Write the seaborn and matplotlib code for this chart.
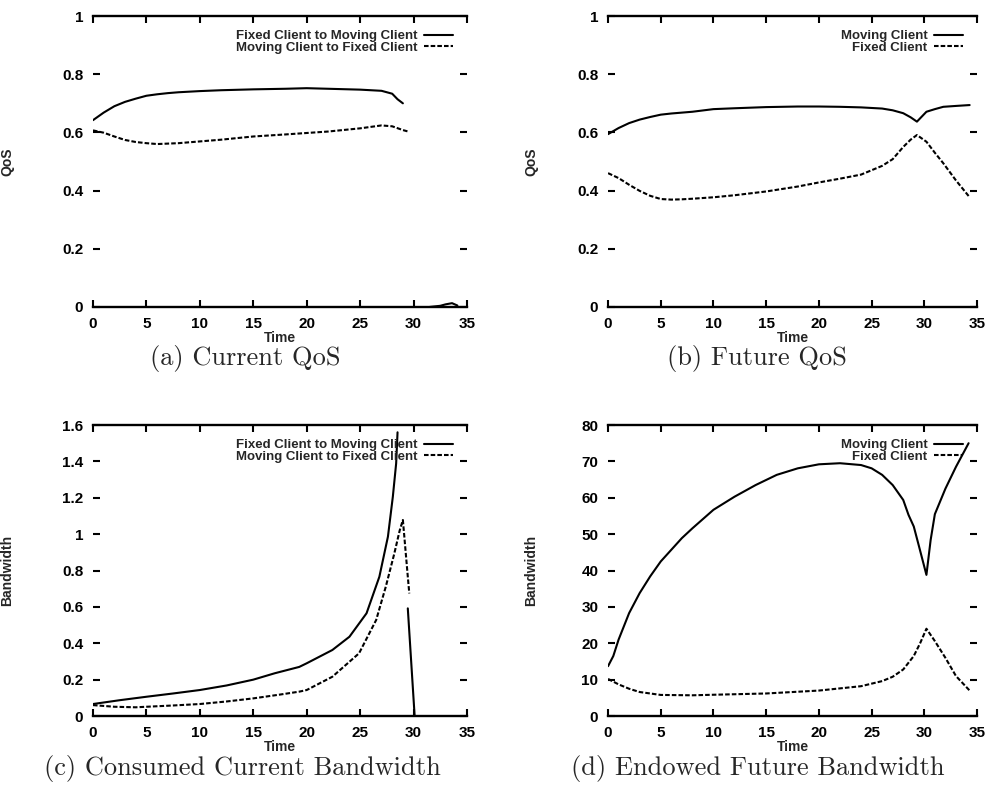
import numpy as np
import pandas as pd
import seaborn as sns
import matplotlib.pyplot as plt

# (a) Current QoS
a_time_fm = [0, 1, 2, 3, 4, 5, 6, 7, 8, 10, 12, 15, 18, 20, 22, 25, 27, 28, 28.5, 29]
a_fixed_to_moving = [0.642, 0.668, 0.69, 0.705, 0.716, 0.726, 0.731, 0.735, 0.738, 0.742,
                     0.745, 0.748, 0.75, 0.752, 0.75, 0.747, 0.743, 0.733, 0.714, 0.70]
a_time_mf = [0, 1, 2, 3, 4, 5, 6, 8, 10, 12, 15, 18, 20, 22, 25, 27, 28, 29, 29.5]
a_moving_to_fixed = [0.607, 0.599, 0.586, 0.574, 0.567, 0.563, 0.560, 0.563, 0.569, 0.575,
                     0.586, 0.593, 0.598, 0.603, 0.614, 0.624, 0.621, 0.608, 0.603]
a_tail_time = [31.5, 32.5, 33.0, 33.6, 34.1]
a_tail = [0.0, 0.004, 0.009, 0.013, 0.005]

# (b) Future QoS
b_time = [0, 1, 2, 3, 4, 5, 6, 7, 8, 10, 12, 15, 18, 20, 22, 24, 26, 27, 28, 28.7,
          29.3, 30.2, 31, 31.8, 33, 34.3]
b_moving = [0.594, 0.615, 0.632, 0.644, 0.653, 0.661, 0.665, 0.668, 0.671, 0.68, 0.683,
            0.687, 0.689, 0.689, 0.688, 0.686, 0.682, 0.676, 0.666, 0.652, 0.637, 0.671,
            0.680, 0.688, 0.691, 0.694]
b_fixed = [0.460, 0.443, 0.420, 0.399, 0.382, 0.371, 0.369, 0.370, 0.372, 0.377, 0.384,
           0.397, 0.414, 0.428, 0.441, 0.455, 0.485, 0.508, 0.55, 0.575, 0.591, 0.568,
           0.53, 0.494, 0.435, 0.377]

# (c) Consumed Current Bandwidth
c_time_fm = [0, 2.5, 5, 7.5, 10, 12.5, 15, 17, 19.3, 20, 22.4, 24, 25.6, 26.8, 27.6,
             28.06, 28.37, 28.5]
c_fixed_to_moving = [0.066, 0.087, 0.106, 0.124, 0.143, 0.168, 0.20, 0.235, 0.27, 0.29,
                     0.363, 0.436, 0.565, 0.766, 0.986, 1.206, 1.389, 1.56]
c_drop_time = [29.46, 30.1]
c_drop = [0.592, 0.0]
c_time_mf = [0, 2, 4, 5, 7.5, 10, 12.5, 15, 17.5, 19.3, 20, 22.4, 24.9, 26.5, 27.4, 28.2,
             28.7, 29.0, 29.46, 29.6]
c_moving_to_fixed = [0.06, 0.051, 0.048, 0.051, 0.058, 0.066, 0.08, 0.097, 0.118, 0.134,
                     0.143, 0.216, 0.345, 0.528, 0.711, 0.894, 1.02, 1.078, 0.766, 0.674]

# (d) Endowed Future Bandwidth
d_time_m = [0, 0.5, 1, 2, 3, 4, 5, 6, 7, 8, 10, 12, 14, 16, 18, 20, 22, 24, 25, 26, 27,
            28, 28.5, 29, 29.5, 30.2, 30.6, 31, 32, 33, 34.2]
d_moving = [13.7, 16.5, 21, 28.3, 33.8, 38.4, 42.5, 45.7, 48.9, 51.6, 56.7, 60.3, 63.5,
            66.3, 68.1, 69.2, 69.5, 69.0, 68.1, 66.3, 63.5, 59.4, 55.3, 52.1, 46.6, 38.8,
            48.4, 55.5, 62.5, 68.5, 75]
d_time_f = [0, 1, 2, 3, 5, 8, 10, 15, 20, 24, 26, 27, 28, 29, 29.6, 30.2, 31, 32, 33, 34.3]
d_fixed = [10.2, 8.7, 7.5, 6.6, 5.8, 5.7, 5.85, 6.2, 7.0, 8.2, 9.6, 10.8, 12.8, 16.5, 20,
           24, 20.6, 16, 11, 7.0]

sns.set_style("white")
plt.rcParams['font.family'] = ['Liberation Sans', 'DejaVu Sans']
plt.rcParams['font.weight'] = 'bold'

fig = plt.figure(figsize=(9.89, 7.94), dpi=100)
ax_a = fig.add_axes([0.0940, 0.6134, 0.3782, 0.3664])
ax_b = fig.add_axes([0.6148, 0.6134, 0.3731, 0.3664])
ax_c = fig.add_axes([0.0940, 0.0982, 0.3782, 0.3665])
ax_d = fig.add_axes([0.6148, 0.0982, 0.3731, 0.3665])

DASH = (0, (2.2, 1.0))


def line(ax, x, y, dashed=False, label=None):
    sns.lineplot(x=x, y=y, ax=ax, color='black', lw=1.5, sort=False, estimator=None,
                 linestyle=DASH if dashed else '-', label=label)


def style(ax, ymax, yticks, ylabel, label_x):
    ax.set_xlim(0, 35)
    ax.set_ylim(0, ymax)
    ax.set_xticks(range(0, 36, 5))
    ax.set_yticks(yticks)
    ax.set_yticklabels([f"{t:g}" for t in yticks])
    for s in ['left', 'right']:
        ax.spines[s].set_visible(False)
    for s in ['top', 'bottom']:
        ax.spines[s].set_linewidth(1.7)
        ax.spines[s].set_color('black')
    ax.tick_params(direction='in', length=5, width=1.5, top=True, right=True,
                   bottom=True, left=True, labelsize=11, pad=7, colors='black')
    ax.set_xlabel("Time", fontsize=10, fontweight='bold', labelpad=0)
    ax.set_ylabel(ylabel, fontsize=10, fontweight='bold')
    ax.yaxis.set_label_coords(label_x, 0.5)
    ax.legend(loc='upper right', bbox_to_anchor=(0.962, 0.952), frameon=False,
              markerfirst=False, fontsize=9.5, handlelength=2.2, handletextpad=0.5,
              labelspacing=-0.05, borderpad=0, borderaxespad=0)


line(ax_a, a_time_fm, a_fixed_to_moving, label="Fixed Client to Moving Client")
line(ax_a, a_time_mf, a_moving_to_fixed, dashed=True, label="Moving Client to Fixed Client")
line(ax_a, a_tail_time, a_tail)
style(ax_a, 1, [0, 0.2, 0.4, 0.6, 0.8, 1], "QoS", -0.21)

line(ax_b, b_time, b_moving, label="Moving Client")
line(ax_b, b_time, b_fixed, dashed=True, label="Fixed Client")
style(ax_b, 1, [0, 0.2, 0.4, 0.6, 0.8, 1], "QoS", -0.19)

line(ax_c, c_time_fm, c_fixed_to_moving, label="Fixed Client to Moving Client")
line(ax_c, c_time_mf, c_moving_to_fixed, dashed=True, label="Moving Client to Fixed Client")
line(ax_c, c_drop_time, c_drop)
style(ax_c, 1.6, [0, 0.2, 0.4, 0.6, 0.8, 1, 1.2, 1.4, 1.6], "Bandwidth", -0.21)

line(ax_d, d_time_m, d_moving, label="Moving Client")
line(ax_d, d_time_f, d_fixed, dashed=True, label="Fixed Client")
style(ax_d, 80, list(range(0, 81, 10)), "Bandwidth", -0.19)

captions = [("(a) Current QoS", 245, 358), ("(b) Future QoS", 757, 358),
            ("(c) Consumed Current Bandwidth", 242, 768),
            ("(d) Endowed Future Bandwidth", 758, 768)]
for txt, x, y in captions:
    fig.text(x / 989, 1 - y / 794, txt, family='cmr10', fontweight='normal', fontsize=19,
             ha='center', va='center')

fig.savefig("out.png", dpi=100)
